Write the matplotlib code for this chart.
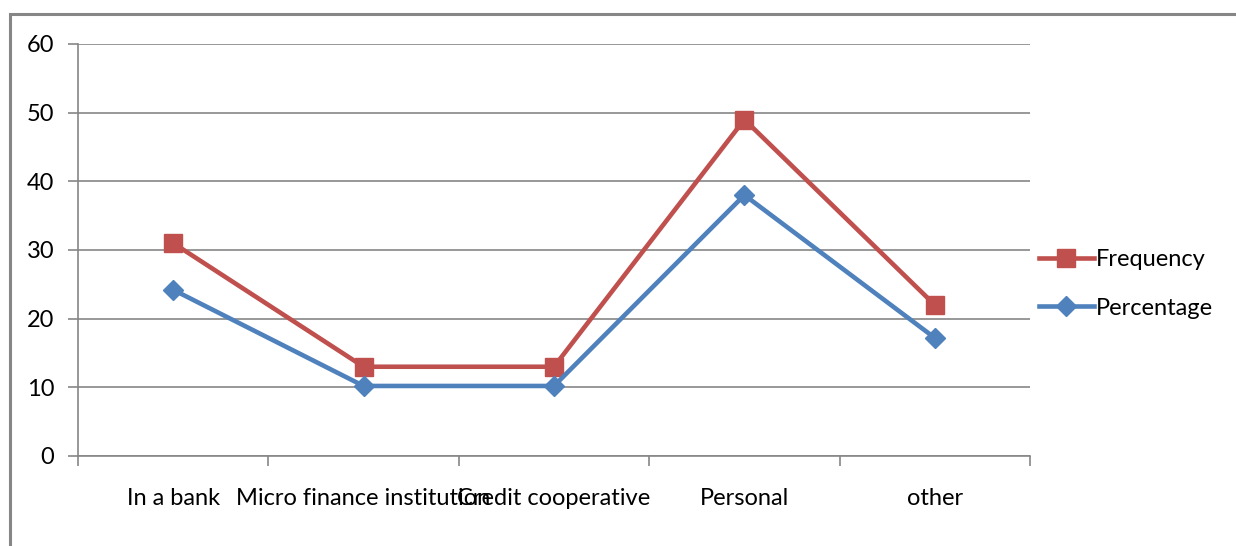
import matplotlib.pyplot as plt
from matplotlib.patches import Rectangle

categories = ['In a bank', 'Micro finance institution', 'Credit cooperative', 'Personal', 'other']
frequency = [31, 13, 13, 49, 22]
percentage = [24.2, 10.2, 10.2, 38.0, 17.2]

plt.rcParams['font.family'] = ['Lato', 'DejaVu Sans']

W, H = 1236, 546
fig = plt.figure(figsize=(W / 100, H / 100), dpi=100)

# outer chart frame
fig.patches.append(Rectangle((10 / W, -0.1), 1.2, (546 - 14) / H + 0.1,
                             transform=fig.transFigure, fill=False,
                             edgecolor='#868686', linewidth=2.2))

ax = fig.add_axes([78 / W, (H - 456) / H, (1030 - 78) / W, (456 - 44) / H])

x = list(range(len(categories)))
ax.plot(x, frequency, color='#C0504D', linewidth=3.3, marker='s', markersize=13,
        label='Frequency')
ax.plot(x, percentage, color='#4F81BD', linewidth=3.3, marker='D', markersize=10,
        label='Percentage')

ax.set_xlim(-0.5, len(categories) - 0.5)
ax.set_ylim(0, 60)
ax.set_yticks(range(0, 61, 10))
ax.yaxis.grid(True, color='#868686', linewidth=1.2)
ax.set_axisbelow(True)

for s in ['top', 'right']:
    ax.spines[s].set_visible(False)
for s in ['left', 'bottom']:
    ax.spines[s].set_color('#868686')
    ax.spines[s].set_linewidth(1.2)

ax.set_xticks([i - 0.5 for i in range(len(categories) + 1)])
ax.set_xticklabels([])
ax.set_xticks(x, minor=True)
ax.set_xticklabels(categories, minor=True)
ax.tick_params(axis='x', which='major', length=7, color='#868686', width=1.2)
ax.tick_params(axis='x', which='minor', length=0, pad=23, labelsize=17)
ax.tick_params(axis='y', length=7, color='#868686', width=1.2, labelsize=17, pad=10)

fig.legend(loc='center left', bbox_to_anchor=(1018 / W, 1 - 284 / H), frameon=False,
           fontsize=17, handlelength=2.3, labelspacing=1.15, handletextpad=0.1)

fig.savefig('out.png', dpi=100)
